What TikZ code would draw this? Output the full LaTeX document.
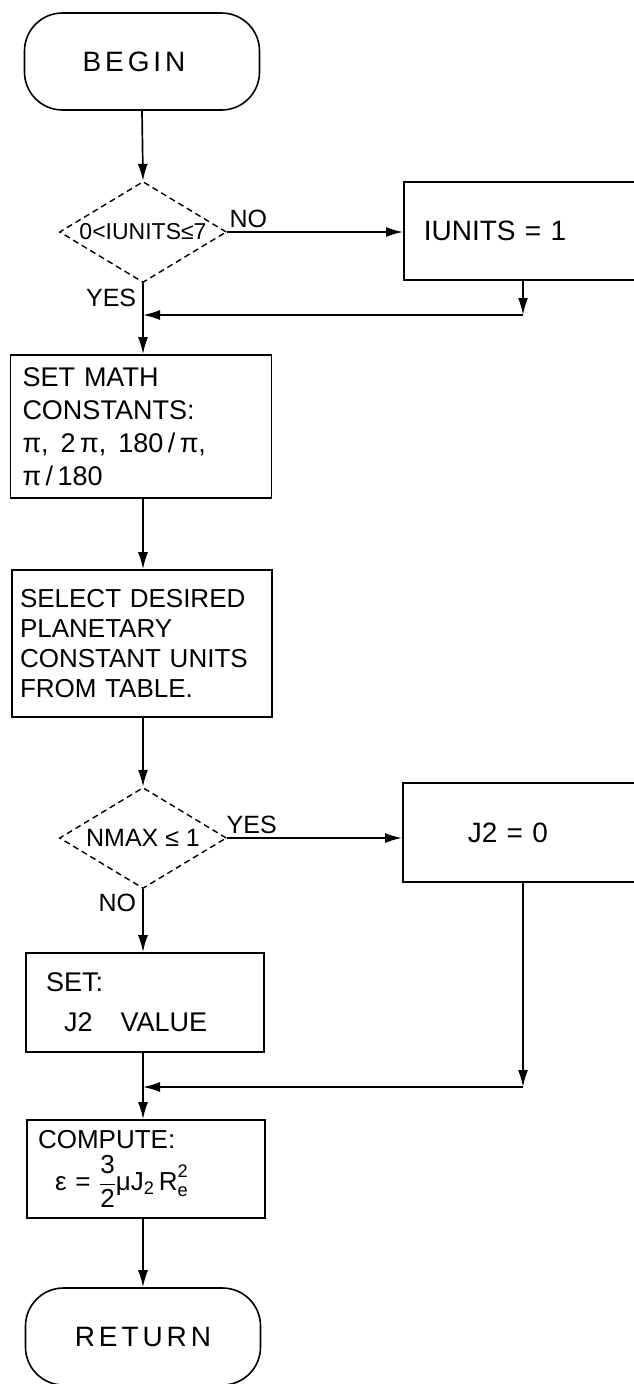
\documentclass[tikz,border=0pt]{standalone}
\usepackage{fontspec}
\setmainfont{Liberation Sans}
\usepackage{amsmath}
\usetikzlibrary{arrows.meta, positioning, calc, shapes.geometric}
\tikzset{
  term/.style={draw, line width=1.6pt, rounded corners=38pt, minimum width=235pt, minimum height=97pt,
    font=\fontsize{28}{34}\selectfont\addfontfeatures{LetterSpace=14}},
  dec/.style={draw, diamond, aspect=1.9, inner sep=0pt, line width=1.4pt, dash pattern=on 6pt off 4pt,
    minimum width=167pt, minimum height=101pt, font=\fontsize{23}{26}\selectfont},
  proc/.style={draw, line width=1.7pt, align=left, inner ysep=0pt, font=\fontsize{27}{30}\selectfont},
  arr/.style={-{Latex[length=17pt, width=10pt]}, line width=1.7pt},
  lbl/.style={font=\fontsize{25}{28}\selectfont, inner sep=3pt},
}

\begin{document}
\begin{tikzpicture}[x=1pt, y=-1pt]
  \useasboundingbox (0,0) rectangle (634,1384);
  % main column
  \node[term] (begin) at (142,61.5) {BEGIN\hspace*{16pt}};
  \node[dec] (units) at (143,232) {0<IUNITS≤7};
  \node[proc, anchor=west, minimum height=98pt, inner xsep=20pt, text width=220pt,
    font=\fontsize{28}{30}\selectfont] (setunits) at (403,231) {IUNITS = 1};
  \node[proc, minimum width=261pt, minimum height=143pt, inner xsep=12pt, text width=237pt,
    font=\fontsize{27}{33}\selectfont] (mathc) at (141,426.5)
    {SET MATH\\CONSTANTS:\\π,\hspace{3pt} 2\,π,\hspace{3pt} 180\,/\,π,\\π\,/\,180};
  \node[proc, minimum width=260pt, minimum height=147pt, inner xsep=8pt, text width=244pt,
    font=\fontsize{26}{30}\selectfont] (planet) at (142,643.5)
    {SELECT DESIRED\\PLANETARY\\CONSTANT UNITS\\FROM TABLE.};
  \node[dec, font=\fontsize{25}{28}\selectfont] (nmax) at (143,838) {NMAX ≤ 1};
  \node[proc, anchor=west, minimum height=99pt, inner xsep=65pt, text width=130pt,
    font=\fontsize{28}{30}\selectfont] (jzero) at (402,832.5) {J2 = 0};
  \node[proc, minimum width=238pt, minimum height=99pt, inner xsep=20pt, text width=198pt,
    font=\fontsize{27}{40}\selectfont] (setj) at (145,1002.5)
    {SET:\\\hspace*{18pt}J2\hspace{28pt}VALUE};
  \node[proc, minimum width=238pt, minimum height=98pt, inner xsep=11pt, text width=216pt,
    font=\fontsize{26}{42}\selectfont] (comp) at (146,1169)
    {COMPUTE:\\\hspace*{17pt}ε = $\dfrac{\text{3}}{\text{2}}$μJ$_{\text{2}}$\,R$^{\raisebox{4pt}{$\scriptstyle\text{2}$}}_{\text{e}}$};
  \node[term] (ret) at (143,1336.5) {RETURN};
  \coordinate (m1) at (523,315);
  \coordinate (m2) at (523,1087);

  % connectors
  \draw[arr] (begin.south) -- (units.north);
  \draw[arr] (units.east) -- node[lbl, above, pos=0.12] (no1) {NO} (units.east -| setunits.west);
  \draw[arr] (m1 |- setunits.south) -- (m1);
  \draw[arr] (m1) -- (m1 -| units.south);
  \draw[arr] (units.south) -- node[lbl, left, pos=0.2, xshift=-3pt] (yes1) {YES} (units.south |- mathc.north);
  \draw[arr] (units.south |- mathc.south) -- (units.south |- planet.north);
  \draw[arr] (units.south |- planet.south) -- (nmax.north);
  \draw[arr] (nmax.east) -- node[lbl, above, pos=0.14] (yes2) {YES} (nmax.east -| jzero.west);
  \draw[arr] (nmax.south) -- node[lbl, left, pos=0.22, xshift=-3pt] (no2) {NO} (nmax.south |- setj.north);
  \draw[arr] (m2 |- jzero.south) -- (m2);
  \draw[arr] (m2) -- (m2 -| nmax.south);
  \draw[arr] (nmax.south |- setj.south) -- (nmax.south |- comp.north);
  \draw[arr] (nmax.south |- comp.south) -- (ret.north);
\end{tikzpicture}
\end{document}
